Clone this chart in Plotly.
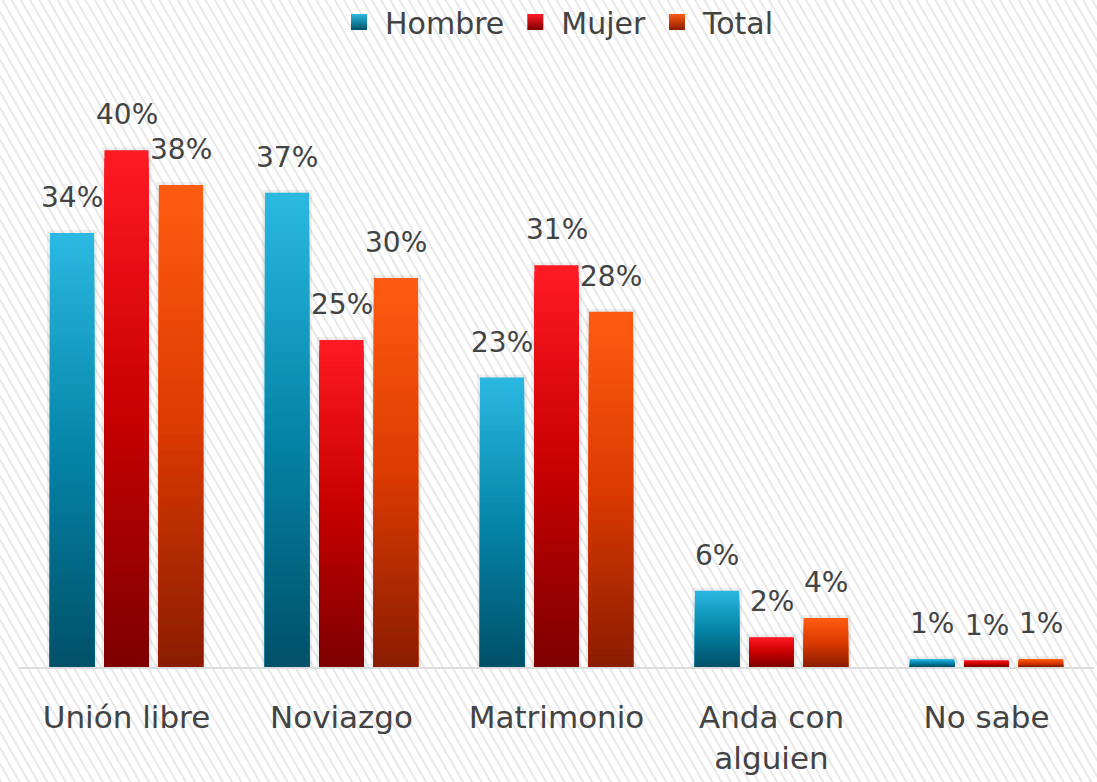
import base64
import plotly.graph_objects as go

# ---------------- data ----------------
categories = ["Unión libre", "Noviazgo", "Matrimonio", "Anda con<br>alguien", "No sabe"]
series_names = ["Hombre", "Mujer", "Total"]
hombre = [33.6, 36.7, 22.4, 5.9, 0.6]
mujer = [40.0, 25.3, 31.1, 2.3, 0.5]
total = [37.3, 30.1, 27.5, 3.8, 0.6]
hombre_labels = ["34%", "37%", "23%", "6%", "1%"]
mujer_labels = ["40%", "25%", "31%", "2%", "1%"]
total_labels = ["38%", "30%", "28%", "4%", "1%"]

# ---------------- style ----------------
W, H = 1097, 782
ML, MR, MT, MB = 19, 3, 21, 115
PW, PH = W - ML - MR, H - MT - MB
BARGAP, BARGROUPGAP = 0.24, 0.19
FONT = "DejaVu Sans"
TXT = "#434343"
# gradient stops: top, middle, bottom
grads = {
    "Hombre": ["#2bb9e2", "#0585a8", "#005068"],
    "Mujer": ["#ff1a24", "#c80000", "#7d0000"],
    "Total": ["#ff5c12", "#dc3a00", "#8a1c00"],
}
N = 60  # gradient steps per bar


def hex2rgb(h):
    h = h.lstrip("#")
    return [int(h[i:i + 2], 16) for i in (0, 2, 4)]


def interp(stops, t):
    # t: 0 = top, 1 = bottom
    c = [hex2rgb(s) for s in stops]
    if t <= 0.5:
        a, b, u = c[0], c[1], t / 0.5
    else:
        a, b, u = c[1], c[2], (t - 0.5) / 0.5
    r = [round(a[i] + (b[i] - a[i]) * u) for i in range(3)]
    return "rgb(%d,%d,%d)" % tuple(r)


fig = go.Figure()

values = {"Hombre": hombre, "Mujer": mujer, "Total": total}
labels = {"Hombre": hombre_labels, "Mujer": mujer_labels, "Total": total_labels}

# legend entries
for name in series_names:
    st = grads[name]
    fig.add_trace(go.Scatter(
        x=[None], y=[None], mode="markers", name=name,
        marker=dict(symbol="square", size=22, color=st[0],
                    gradient=dict(type="vertical", color=st[2]),
                    line=dict(width=0)),
        hoverinfo="skip",
    ))

# soft shadow behind bars
for name in series_names:
    fig.add_trace(go.Bar(
        x=categories, y=values[name], offsetgroup=name,
        marker=dict(color="rgba(0,0,0,0.06)", line=dict(width=6, color="rgba(0,0,0,0.06)")),
        showlegend=False, hoverinfo="skip",
    ))

# gradient bars: overlapping bars from 0, each shorter one drawn on top
for name in series_names:
    vals = values[name]
    st = grads[name]
    for k in range(N):
        frac = (N - k) / N
        col = interp(st, (k + 0.5) / N)
        fig.add_trace(go.Bar(
            x=categories,
            y=[v * frac for v in vals],
            offsetgroup=name,
            marker=dict(color=col, line=dict(width=0)),
            showlegend=False,
            hoverinfo="skip",
        ))

# value labels
cw = PW / len(categories)
slot = cw * (1 - BARGAP) / len(series_names)
annotations = []
for j, name in enumerate(series_names):
    for cat, v, lab in zip(categories, values[name], labels[name]):
        annotations.append(dict(
            x=cat, y=v, text=lab, showarrow=False,
            xanchor="center", yanchor="bottom",
            xshift=(j - 1) * slot, yshift=17,
            font=dict(family=FONT, size=28, color=TXT),
        ))

# hatched background
svg = (
    f'<svg xmlns="http://www.w3.org/2000/svg" width="{W}" height="{H}">'
    '<defs><pattern id="h" width="8" height="8" patternUnits="userSpaceOnUse" '
    'patternTransform="rotate(-30)">'
    '<line x1="2" y1="-2" x2="2" y2="10" stroke="#e8e8e8" stroke-width="2"/>'
    '</pattern></defs>'
    '<rect width="100%" height="100%" fill="#ffffff"/>'
    '<rect width="100%" height="100%" fill="url(#h)"/></svg>'
)
src = "data:image/svg+xml;base64," + base64.b64encode(svg.encode()).decode()

fig.update_layout(
    width=W, height=H,
    margin=dict(l=ML, r=MR, t=MT, b=MB, autoexpand=False),
    paper_bgcolor="#ffffff",
    plot_bgcolor="rgba(0,0,0,0)",
    barmode="group",
    bargap=BARGAP,
    bargroupgap=BARGROUPGAP,
    font=dict(family=FONT, color=TXT),
    showlegend=True,
    legend=dict(orientation="h", x=0.5, xanchor="center",
                y=1 + (MT - 22) / PH, yanchor="middle",
                font=dict(family=FONT, size=30, color=TXT),
                itemwidth=42,
                bgcolor="rgba(0,0,0,0)", itemclick=False, itemdoubleclick=False),
    annotations=annotations,
    images=[dict(source=src, xref="paper", yref="paper",
                 x=-ML / PW, y=1 + MT / PH, sizex=W / PW, sizey=H / PH,
                 xanchor="left", yanchor="top", sizing="stretch", layer="below")],
    xaxis=dict(type="category", showline=True, linecolor="#dcdcdc", linewidth=2,
               ticks="outside", ticklen=22, tickcolor="rgba(0,0,0,0)",
               tickfont=dict(family=FONT, size=31, color=TXT),
               showgrid=False, zeroline=False, fixedrange=True),
    yaxis=dict(range=[0, 50], visible=False, fixedrange=True),
    hovermode=False,
)

fig.write_html("out.html", config={"displayModeBar": False},
               post_script="document.body.style.margin='0';document.body.style.overflow='hidden';")
